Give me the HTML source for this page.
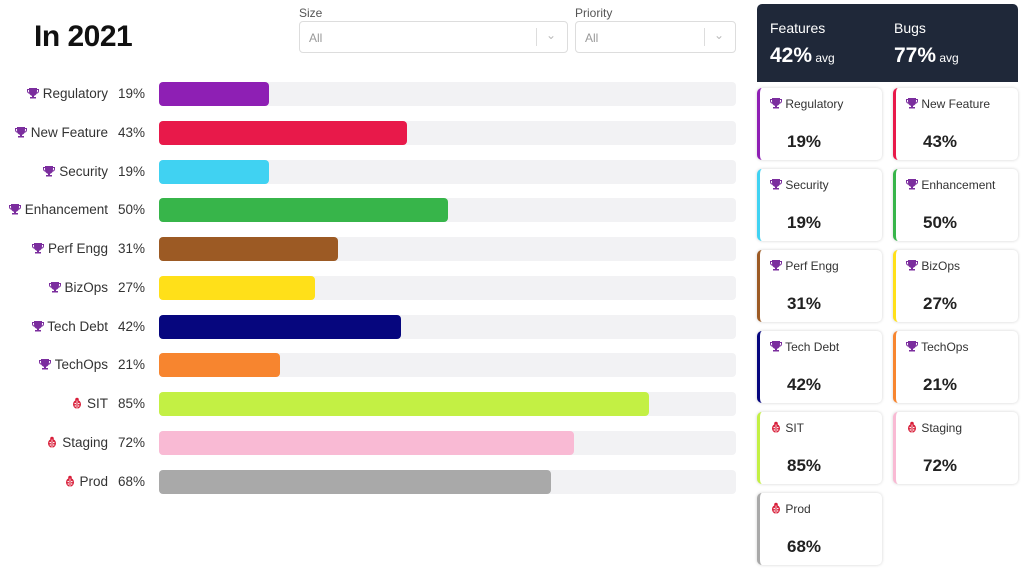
<!DOCTYPE html>
<html><head><meta charset="utf-8"><style>
body{margin:0;width:1024px;height:576px;background:#fff;font-family:"Liberation Sans",sans-serif;position:relative;overflow:hidden}
.abs{position:absolute}
h1{position:absolute;left:34px;top:20px;margin:0;font-size:30px;font-weight:bold;color:#111;letter-spacing:-0.5px}
.flabel{font-size:12px;color:#555}
.sel{border:1px solid #ddd;border-radius:4px;height:32px;box-sizing:border-box;font-size:12px;color:#999;padding:9px 9px}
.sel .sep{position:absolute;right:30px;top:6px;width:1px;height:18px;background:#ddd}
.sel .chev{position:absolute;right:11px;top:6px;color:#bbb;font-size:12px}
.lbl{position:absolute;font-size:13.5px;color:#333;text-align:right}
.track{position:absolute;left:159px;width:577px;height:24px;background:#f2f2f4;border-radius:4px}
.bar{position:absolute;left:0;top:0;height:24px;border-radius:4px}
.card{position:absolute;width:125px;height:72px;background:#fff;border-radius:5px;box-shadow:0 0 3px rgba(0,0,0,.18);box-sizing:border-box;border-left:3px solid}
.card .t{position:absolute;left:10px;top:9px;font-size:12px;color:#333}
.card .v{position:absolute;left:27px;top:44px;font-size:17px;font-weight:bold;color:#222}
</style></head><body>
<h1>In 2021</h1>
<div class="abs flabel" style="left:299px;top:6px">Size</div>
<div class="abs sel" style="left:299px;top:21px;width:269px">All<div class="sep"></div><div class="chev">&#8964;</div></div>
<div class="abs flabel" style="left:575px;top:6px">Priority</div>
<div class="abs sel" style="left:575px;top:21px;width:161px">All<div class="sep"></div><div class="chev">&#8964;</div></div>
<div class="abs" style="left:757px;top:4px;width:261px;height:78px;background:#1f2839;border-radius:5px 5px 0 0">
<div class="abs" style="left:13px;top:16px;color:#fff;font-size:14px">Features</div>
<div class="abs" style="left:13px;top:40px;color:#fff;font-size:21px;font-weight:bold">42%<span style="font-size:12px;font-weight:normal"> avg</span></div>
<div class="abs" style="left:137px;top:16px;color:#fff;font-size:14px">Bugs</div>
<div class="abs" style="left:137px;top:40px;color:#fff;font-size:21px;font-weight:bold">77%<span style="font-size:12px;font-weight:normal"> avg</span></div>
</div>
<div id="chart"></div><div id="cards"></div>
<script>
const categories=["Regulatory","New Feature","Security","Enhancement","Perf Engg","BizOps","Tech Debt","TechOps","SIT","Staging","Prod"];
const values=[19,43,19,50,31,27,42,21,85,72,68];
const kinds=["f","f","f","f","f","f","f","f","b","b","b"];
const colors=["#8e1fb4","#e8194a","#40d2f2","#37b54a","#9c5a24","#ffe019","#06067e","#f7852f","#c3f044","#f9bad4","#a9a9a9"];
const trophy='<svg width="12" height="12" viewBox="0 0 12 12" style="vertical-align:-1px"><path d="M2 1h8v1h2v2c0 1.5-1 2.5-2.3 2.6C9 8 8 8.6 7 8.8V10h2v1.5H3V10h2V8.8C4 8.6 3 8 2.3 6.6 1 6.5 0 5.5 0 4V2h2zM1 3v1c0 .8.5 1.4 1.1 1.5L2 3zm10 0H10l-.1 2.5C10.5 5.4 11 4.8 11 4z" fill="#7b2d9e"/></svg>';
const bug='<svg width="12" height="12" viewBox="0 0 12 12" style="vertical-align:-1px"><circle cx="6" cy="2.5" r="1.8" fill="#d81f3a"/><ellipse cx="6" cy="7.3" rx="4" ry="4.3" fill="#d81f3a"/><line x1="6" y1="3.5" x2="6" y2="11.5" stroke="#fff" stroke-width="0.8"/><circle cx="4.2" cy="6.5" r=".8" fill="#fff"/><circle cx="7.8" cy="6.5" r=".8" fill="#fff"/><circle cx="4.3" cy="9" r=".7" fill="#fff"/><circle cx="7.7" cy="9" r=".7" fill="#fff"/></svg>';
const trackW=577,rowY0=82,rowPitch=38.75;
const xs=v=>v/100*trackW, ys=i=>rowY0+i*rowPitch;
const chart=document.getElementById('chart');
categories.forEach((c,i)=>{
 const y=ys(i);
 const l=document.createElement('div');l.className='lbl';l.style.right=(1024-108)+'px';l.style.top=(y+4)+'px';
 l.innerHTML=(kinds[i]=='f'?trophy:bug)+' '+c;
 
 
 chart.appendChild(l);
 const p=document.createElement('div');p.className='lbl';p.style.right=(1024-145)+'px';p.style.top=(y+4)+'px';p.textContent=values[i]+'%';
 
 
 chart.appendChild(p);
 const t=document.createElement('div');t.className='track';t.style.top=y+'px';
 
 
 const b=document.createElement('div');b.className='bar';b.style.width=xs(values[i])+'px';b.style.background=colors[i];
 
 
 t.appendChild(b);chart.appendChild(t);
 const cd=document.createElement('div');cd.className='card';
 cd.style.left=(i%2?893:757)+'px';cd.style.top=(88+Math.floor(i/2)*81)+'px';cd.style.borderLeftColor=colors[i];
 cd.innerHTML='<div class="t">'+(kinds[i]=='f'?trophy:bug)+' '+c+'</div><div class="v">'+values[i]+'%</div>';
 
 
 document.getElementById('cards').appendChild(cd);
});
</script>
</body></html>
